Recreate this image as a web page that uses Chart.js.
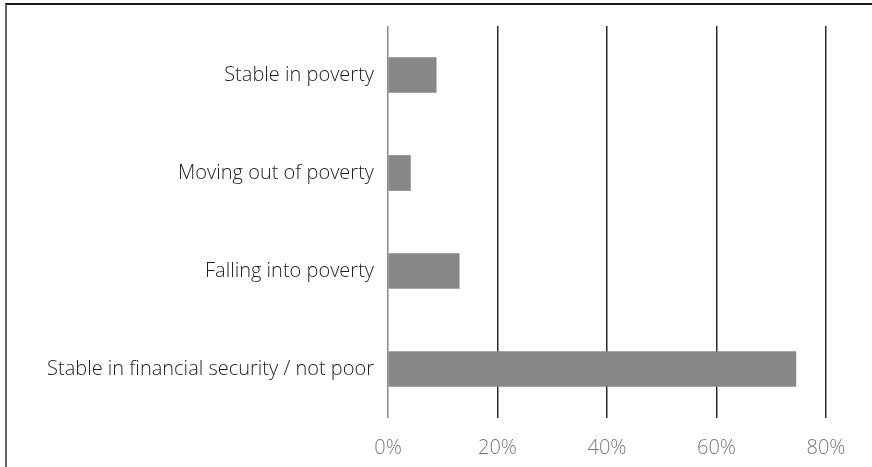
<!DOCTYPE html>
<html>
<head>
<meta charset="utf-8">
<script src="https://cdn.jsdelivr.net/npm/chart.js@4/dist/chart.umd.min.js"></script>
<style>
  html, body { margin: 0; padding: 0; background: #fff; }
  .frame {
    position: absolute; left: 5px; top: 3px; width: 867px; height: 464px;
    border-top: 2px solid #1a1a1a; border-left: 2px solid #666;
  }
  .chart { position: absolute; left: 0; top: 0; width: 872px; height: 467px; }
</style>
</head>
<body>
<div class="frame"></div>
<div class="chart"><canvas id="povertyChart"></canvas></div>
<script>
const categories = [
  "Stable in poverty",
  "Moving out of poverty",
  "Falling into poverty",
  "Stable in financial security / not poor",
];
const shares = [8.8, 4.1, 13.0, 74.5];
const tickValues = [0, 20, 40, 60, 80];

const ctx = document.getElementById("povertyChart").getContext("2d");
new Chart(ctx, {
  type: "bar",
  data: {
    labels: categories,
    datasets: [
      {
        label: "Share",
        data: shares,
        backgroundColor: "#878787",
        borderWidth: 0,
        barThickness: 35,
      },
    ],
  },
  options: {
    indexAxis: "y",
    responsive: true,
    maintainAspectRatio: false,
    animation: false,
    layout: { padding: { left: 0, right: 46, top: 23, bottom: 0 } },
    plugins: {
      legend: { display: false },
      tooltip: { enabled: false },
    },
    scales: {
      x: {
        min: 0,
        max: 80,
        afterBuildTicks: (axis) => {
          axis.ticks = tickValues.map((v) => ({ value: v }));
        },
        afterFit: (axis) => {
          axis.height = 49;
        },
        border: { display: false },
        grid: {
          drawTicks: false,
          lineWidth: 1.5,
          color: (c) => (c.index === 0 ? "#8a8a8a" : "#2a2a2a"),
        },
        ticks: {
          padding: 18,
          color: "#7a7a7a",
          font: { family: "Open Sans", size: 20, weight: 300 },
          callback: (v) => v + "%",
        },
      },
      y: {
        afterFit: (axis) => {
          axis.width = 388;
        },
        border: { display: false },
        grid: { display: false, drawTicks: false },
        ticks: {
          padding: 14,
          color: "#1e1e1e",
          font: { family: "Open Sans", size: 20, weight: 300 },
        },
      },
    },
  },
});
</script>
</body>
</html>
